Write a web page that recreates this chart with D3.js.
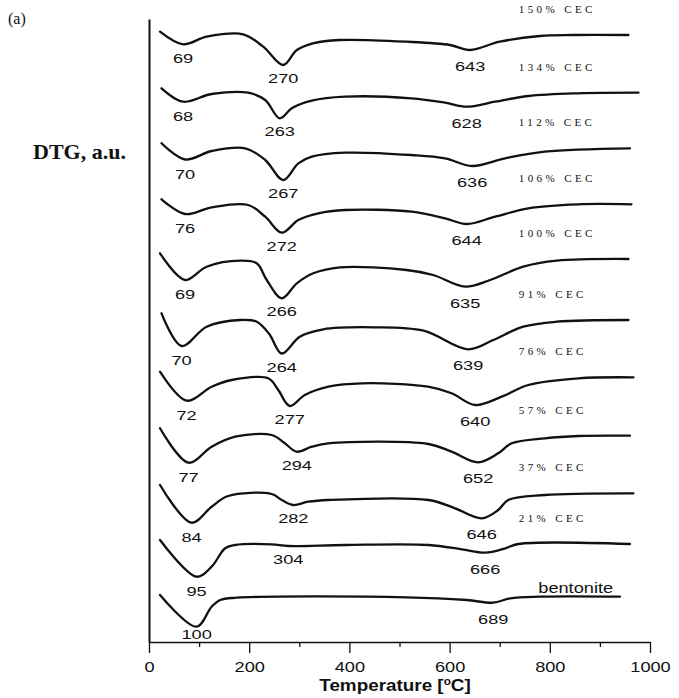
<!DOCTYPE html>
<html>
<head>
<meta charset="utf-8">
<script src="https://cdn.jsdelivr.net/npm/d3@7/dist/d3.min.js"></script>
<style>
  html, body { margin: 0; padding: 0; background: #fff; }
  svg { display: block; }
</style>
</head>
<body>
<svg id="chart" width="679" height="698"></svg>
<script>
// ---- Data (temperature in °C, DTG in arbitrary units relative to each curve's high-T baseline) ----
const cec150 = [[22,3.3],[68,-9.3],[115,-1.7],[188,0.7],[228,-11.7],[268,-30],[295,-15],[327,-8.3],[381,-5],[514,-6.7],[601,-10],[641,-15],[700,-6.7],[780,-1],[846,0],[957,0]];
const cec134 = [[25,4.4],[68,-9],[125,-1.3],[198,0],[232,-7.3],[261,-25.6],[285,-15.6],[325,-8],[391,-4],[524,-5.6],[591,-10],[634,-14],[691,-9],[757,-3.3],[856,-0.6],[977,0]];
const cec112 = [[25,5],[72,-11.2],[125,-2.7],[192,0],[232,-11.7],[268,-31.7],[298,-15],[325,-8.4],[391,-4.4],[524,-6.7],[591,-10],[645,-17.7],[711,-10],[790,-3.4],[960,0]];
const cec106 = [[25,5],[72,-9.7],[125,-3],[198,-0.7],[232,-12.4],[265,-28.4],[298,-15.7],[338,-9],[391,-5.7],[524,-7.4],[591,-14],[634,-19.7],[691,-12.4],[757,-4],[856,0],[963,0]];
const cec100 = [[22,5.7],[72,-21],[115,-7.7],[182,-1.7],[215,-4.3],[235,-21],[265,-39.3],[295,-24.3],[328,-14.3],[381,-8.3],[514,-11],[567,-16],[631,-27.7],[681,-21],[747,-7.7],[814,-1.7],[957,0]];
const cec91  = [[25,6.7],[65,-26],[115,-6.7],[182,0],[215,-1.7],[240,-14],[265,-33.5],[301,-16.7],[348,-9.3],[448,-7.3],[548,-10.7],[637,-29.3],[687,-20],[747,-6.7],[814,-1.7],[957,0]];
const cec76  = [[22,5.6],[75,-23.4],[125,-9.4],[165,-2.7],[238,-1],[258,-12.7],[281,-28.7],[311,-17.7],[358,-9.4],[425,-6],[557,-9.4],[604,-16],[651,-27.7],[704,-19.4],[757,-7.7],[857,-1],[967,0]];
const cec57  = [[22,7.4],[79,-27],[125,-11],[172,-1],[245,0.7],[271,-7.6],[295,-16],[325,-11],[358,-7.6],[558,-8.3],[604,-16],[657,-26.6],[697,-17.6],[724,-7.6],[790,-2.6],[857,-0.3],[960,0]];
const cec37  = [[22,8.3],[85,-29.4],[125,-13.4],[158,-2.7],[245,-0.7],[265,-6.7],[288,-11.7],[318,-8.4],[358,-6.7],[558,-6.7],[611,-15],[664,-25],[697,-16.7],[717,-6.7],[790,-1.7],[967,0]];
const cec21  = [[22,4],[95,-32.7],[125,-22.7],[152,-4.3],[172,-1],[245,-0.3],[278,-2],[391,-1],[558,-1],[624,-5.3],[671,-8.7],[711,-4.3],[737,0],[960,0]];
const bentonite = [[22,1.7],[95,-30],[125,-10],[142,-3.3],[175,-1],[514,-0.6],[634,-3.3],[687,-6],[721,-1.6],[780,0],[940,0]];

const curves = [cec150, cec134, cec112, cec106, cec100, cec91, cec76, cec57, cec37, cec21, bentonite];
const curveNames = ["150% CEC","134% CEC","112% CEC","106% CEC","100% CEC","91% CEC","76% CEC","57% CEC","37% CEC","21% CEC","bentonite"];
// vertical stacking offset of each curve (a.u.)
const offsets = [607, 549.3, 493.7, 437.7, 383, 322, 264.7, 206.3, 148.7, 98, 45.3];
// peak temperatures as labelled
const peaks = [[69,270,643],[68,263,628],[70,267,636],[76,272,644],[69,266,635],[70,264,639],[72,277,640],[77,294,652],[84,282,646],[95,304,666],[100,689]];
const xTicks = [0,200,400,600,800,1000];
const xMinorTicks = [100,300,500,700,900];

// ---- Drawing ----
const svg = d3.select("#chart");
const x = d3.scaleLinear().domain([0,1000]).range([149,650]);
const y = d3.scaleLinear().domain([0,623]).range([642,19]);
const sans = "'Liberation Sans', Arial, Helvetica, sans-serif";
const serif = "'Liberation Serif', 'Times New Roman', Times, serif";

// minor ticks
svg.append("g").attr("transform","translate(0,642)")
  .call(d3.axisBottom(x).tickValues(xMinorTicks).tickSize(5).tickSizeOuter(0).tickFormat(""))
  .call(g => g.select(".domain").remove())
  .call(g => g.selectAll("line").attr("stroke","#111").attr("stroke-width",1.3));

// x axis
const xa = svg.append("g").attr("transform","translate(0,642)")
  .call(d3.axisBottom(x).tickValues(xTicks).tickSize(11).tickSizeOuter(0).tickPadding(9).tickFormat(d3.format("d")));
xa.select(".domain").attr("stroke","#111").attr("stroke-width",1.6);
xa.selectAll(".tick line").attr("stroke","#111").attr("stroke-width",1.3);
xa.selectAll(".tick text").attr("font-family",sans).attr("font-size",14).attr("fill","#111")
  .attr("transform","scale(1.3,1)");

// y axis line
const ya = svg.append("g").attr("transform","translate(149,0)")
  .call(d3.axisLeft(y).tickValues([]).tickSizeOuter(0));
ya.select(".domain").attr("stroke","#111").attr("stroke-width",2);

// axis title
const xt = svg.append("text").attr("transform","translate(395,691) scale(1.18,1)")
  .attr("text-anchor","middle").attr("font-family",sans).attr("font-weight","bold")
  .attr("font-size",16).attr("fill","#111");
xt.append("tspan").text("Temperature [");
xt.append("tspan").attr("font-size",10).attr("dy",-6).text("o");
xt.append("tspan").attr("dy",6).text("C]");

svg.append("text").attr("x",33).attr("y",159).attr("font-family",serif).attr("font-weight","bold")
  .attr("font-size",22).attr("fill","#111").text("DTG, a.u.");
svg.append("text").attr("x",8).attr("y",24).attr("font-family",serif)
  .attr("font-size",16).attr("fill","#111").text("(a)");

// curves
const line = d3.line().x(d => x(d[0])).y(d => d.yy).curve(d3.curveCatmullRom.alpha(0.5));
curves.forEach((c, i) => {
  const pts = c.map(d => { const p = [d[0], d[1]]; p.yy = y(offsets[i] + d[1]); return p; });
  svg.append("path").attr("d", line(pts)).attr("fill","none")
    .attr("stroke","#111").attr("stroke-width",2.3).attr("stroke-linejoin","round").attr("stroke-linecap","round");

  // peak labels
  peaks[i].forEach(T => {
    const win = c.filter(d => Math.abs(d[0] - T) <= 45);
    const m = win.reduce((a, b) => (b[1] < a[1] ? b : a), win[0]);
    const gap = T < 150 ? 19 : (T < 400 ? 18 : 21);
    const ty = Math.min(y(offsets[i] + m[1]) + gap, 639);
    svg.append("text")
      .attr("transform", `translate(${x(m[0])},${ty}) scale(1.4,1)`)
      .attr("text-anchor","middle").attr("font-family",sans).attr("font-size",13).attr("fill","#111")
      .text(T);
  });

  // curve name
  const name = curveNames[i];
  if (name.includes("CEC")) {
    svg.append("text").attr("x", x(738)).attr("y", y(offsets[i]) - 22)
      .attr("font-family",serif).attr("font-size",11).attr("letter-spacing","3.4px").attr("fill","#111")
      .text(name);
  } else {
    svg.append("text").attr("transform", `translate(${x(777)},${y(offsets[i]) - 4}) scale(1.3,1)`)
      .attr("font-family",sans).attr("font-size",14).attr("fill","#111").text(name);
  }
});
</script>
</body>
</html>
